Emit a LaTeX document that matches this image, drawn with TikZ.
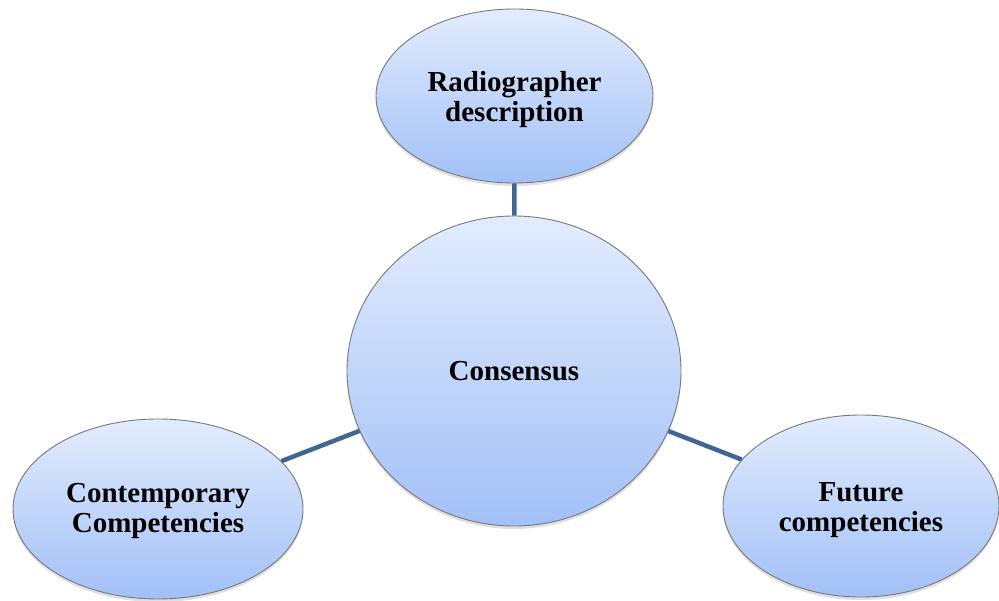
\documentclass[tikz,border=0pt]{standalone}
\usepackage{fontspec}
\setmainfont{Liberation Serif}
\usetikzlibrary{shapes.geometric,shadows}

\definecolor{linkblue}{RGB}{64,102,150}
\definecolor{fillTop}{RGB}{226,236,253}
\definecolor{fillBot}{RGB}{162,192,247}
\definecolor{rimgray}{RGB}{120,120,120}

\tikzset{
  bubble/.style={
    ellipse, inner sep=0pt, draw=rimgray, line width=0.9pt,
    top color=fillTop, bottom color=fillBot,
    drop shadow={opacity=0.25, shadow xshift=0pt, shadow yshift=-3pt}
  },
  caption/.style={
    align=center, inner sep=0pt, font=\bfseries\fontsize{29}{30}\selectfont
  },
  link/.style={draw=linkblue, line width=4.5pt}
}

\begin{document}
\begin{tikzpicture}[x=1pt,y=-1pt]
  \useasboundingbox (0,0) rectangle (999,601);

  % outer topics
  \node[bubble, minimum width=277pt, minimum height=174pt] (desc) at (514.5,96) {};
  \node[bubble, minimum width=290pt, minimum height=180pt] (contemp) at (158,509) {};
  \node[bubble, minimum width=276pt, minimum height=182pt] (future) at (861,506) {};

  % central node
  \node[bubble, minimum width=334pt, minimum height=310pt] (cons) at (514,371) {};

  % labels
  \node[caption] (descT) at (514.5,100) {Radiographer\\description};
  \node[caption] (contempT) at (158,511) {Contemporary\\Competencies};
  \node[caption] (futureT) at (861,510) {Future\\competencies};
  \node[caption] (consT) at (514,371) {Consensus};

  % links to the centre
  \draw[link] (desc) -- (cons);
  \draw[link] (contemp) -- (cons);
  \draw[link] (future) -- (cons);
\end{tikzpicture}
\end{document}
